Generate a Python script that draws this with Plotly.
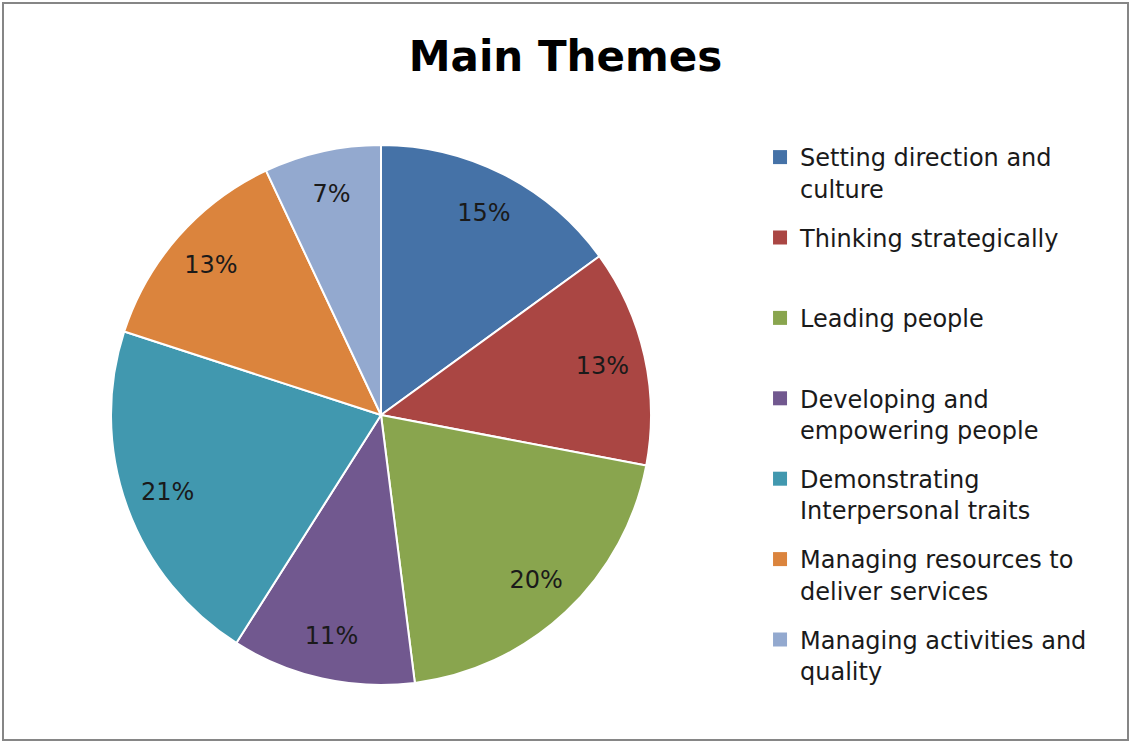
import plotly.graph_objects as go

# ---- data ----
categories = [
    "Setting direction and culture",
    "Thinking strategically",
    "Leading people",
    "Developing and empowering people",
    "Demonstrating Interpersonal traits",
    "Managing resources to deliver services",
    "Managing activities and quality",
]
legend_labels = [
    "Setting direction and<br>culture",
    "Thinking strategically<br>&nbsp;",
    "Leading people<br>&nbsp;",
    "Developing and<br>empowering people",
    "Demonstrating<br>Interpersonal traits",
    "Managing resources to<br>deliver services",
    "Managing activities and<br>quality",
]
values = [15, 13, 20, 11, 21, 13, 7]
colors = ["#4572A7", "#AA4643", "#89A54E", "#71588F", "#4198AF", "#DB843D", "#93A9CF"]

W, H = 1131, 744
FONT = "DejaVu Sans"
cx, cy, R = 381, 415, 270
pie_domain = dict(
    x=[(cx - R) / W, (cx + R) / W],
    y=[1 - (cy + R) / H, 1 - (cy - R) / H],
)

fig = go.Figure()

# filled slices
fig.add_trace(go.Pie(
    labels=categories,
    values=values,
    sort=False,
    direction="clockwise",
    rotation=0,
    marker=dict(colors=colors, line=dict(color="white", width=2)),
    textinfo="none",
    showlegend=False,
    hoverinfo="label+percent",
    domain=pie_domain,
))

# percentage labels placed in the outer ring of the same slices
fig.add_trace(go.Pie(
    labels=categories,
    values=values,
    sort=False,
    direction="clockwise",
    rotation=0,
    hole=0.68,
    marker=dict(colors=["rgba(0,0,0,0)"] * len(values), line=dict(width=0)),
    texttemplate="%{value}%",
    textposition="inside",
    insidetextorientation="horizontal",
    textfont=dict(family=FONT, size=24, color="#1a1a1a"),
    showlegend=False,
    hoverinfo="skip",
    domain=pie_domain,
))

# legend entries (one per category, same colours as slices)
for i, (lab, c) in enumerate(zip(legend_labels, colors)):
    fig.add_trace(go.Scatter(
        x=[None], y=[None], mode="markers",
        marker=dict(symbol="square", size=14, color=c),
        name=lab, legendgroup=str(i), showlegend=True,
        hoverinfo="skip",
    ))

fig.update_layout(
    width=W, height=H,
    margin=dict(l=0, r=0, t=0, b=0),
    paper_bgcolor="white",
    plot_bgcolor="white",
    xaxis=dict(visible=False),
    yaxis=dict(visible=False),
    title=dict(
        text="<b>Main Themes</b>",
        x=0.5, xanchor="center",
        y=1 - 56 / H, yanchor="middle",
        font=dict(family=FONT, size=42, color="black"),
    ),
    legend=dict(
        x=0.672, xanchor="left",
        y=1 - 135 / H, yanchor="top",
        font=dict(family=FONT, size=24, color="#1a1a1a"),
        valign="top",
        tracegroupgap=15,
        bgcolor="rgba(0,0,0,0)",
    ),
    shapes=[dict(
        type="rect", xref="paper", yref="paper",
        x0=3 / W, x1=1 - 3 / W, y0=4 / H, y1=1 - 3 / H,
        line=dict(color="#868686", width=2),
        fillcolor="rgba(0,0,0,0)",
    )],
)

fig.write_html(
    "out.html",
    config={"displayModeBar": False},
    post_script="document.body.style.margin='0';document.body.style.padding='0';",
)
